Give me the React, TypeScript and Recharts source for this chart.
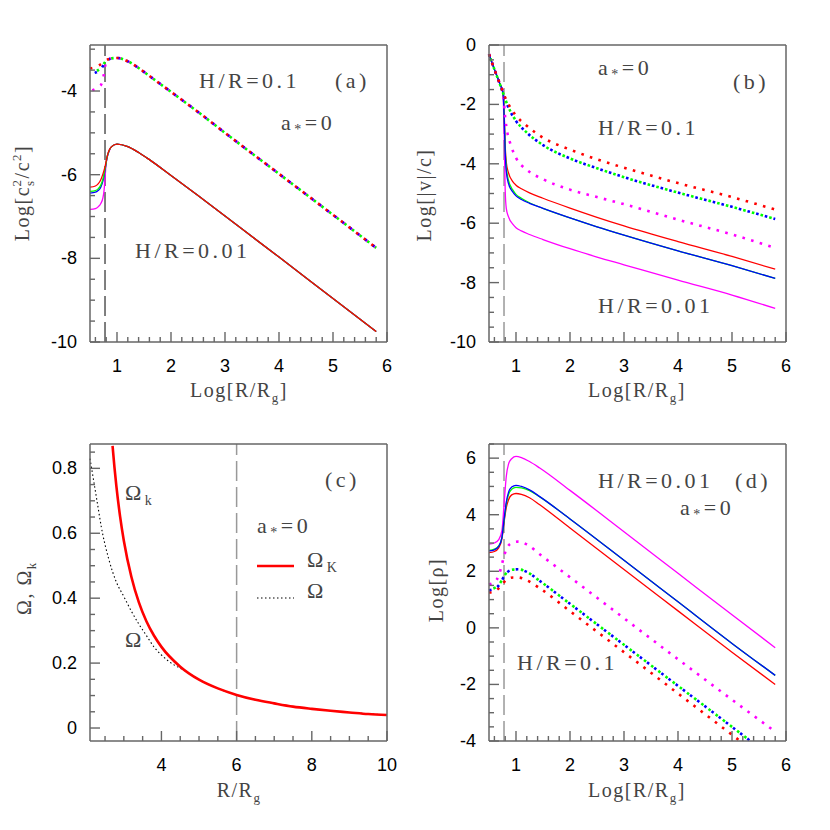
import React from 'react';
import { LineChart, Line, XAxis, YAxis, ReferenceLine } from 'recharts';

type Pt = [number, number];

const RED = '#ff0000';
const GREEN = '#00ff00';
const BLUE = '#0000ff';
const MAGENTA = '#ff00ff';
const FRAME = '#666';

// ---- panel (a): Log[cs^2/c^2] vs Log[R/Rg]
const aSolidTail: Pt[] = [
  [0.9, -5.33], [1.0, -5.27], [1.2, -5.33], [1.4, -5.47], [1.6, -5.64], [2, -6.02],
  [2.5, -6.5], [3, -6.99], [4, -7.97], [5, -8.96], [5.8, -9.75],
];
const aSolidRed: Pt[] = [[0.5, -6.3], [0.6, -6.27], [0.65, -6.22], [0.7, -6.12], [0.74, -5.98], [0.78, -5.8], [0.82, -5.55], [0.86, -5.4]];
const aSolidGreen: Pt[] = [[0.5, -6.4], [0.6, -6.38], [0.65, -6.34], [0.7, -6.25], [0.74, -6.1], [0.78, -5.85], [0.82, -5.56], [0.86, -5.41]];
const aSolidBlue: Pt[] = [[0.5, -6.44], [0.6, -6.42], [0.65, -6.38], [0.7, -6.3], [0.74, -6.15], [0.78, -5.88], [0.82, -5.57], [0.86, -5.41]];
const aSolidMagenta: Pt[] = [[0.5, -6.83], [0.6, -6.81], [0.65, -6.77], [0.7, -6.69], [0.74, -6.55], [0.76, -6.38], [0.78, -6.05], [0.8, -5.72], [0.82, -5.58], [0.86, -5.42]];

const aDotTail: Pt[] = [
  [0.9, -3.22], [1.0, -3.21], [1.2, -3.29], [1.4, -3.45], [1.6, -3.64], [2, -4.02],
  [2.5, -4.5], [3, -5.0], [4, -5.98], [5, -6.96], [5.8, -7.75],
];
const aDotRed: Pt[] = [[0.5, -3.46], [0.6, -3.43], [0.7, -3.36], [0.78, -3.28], [0.84, -3.24]];
const aDotGreen: Pt[] = [[0.5, -3.56], [0.6, -3.53], [0.7, -3.45], [0.78, -3.31], [0.84, -3.25]];
const aDotBlue: Pt[] = [[0.5, -3.59], [0.6, -3.56], [0.7, -3.48], [0.78, -3.32], [0.84, -3.25]];
const aDotMagenta: Pt[] = [[0.5, -4.0], [0.6, -3.95], [0.7, -3.86], [0.74, -3.72], [0.78, -3.4], [0.82, -3.27], [0.86, -3.23]];

// ---- panel (b): Log[|v|/c]
const bDotRed: Pt[] = [[0.5, -0.31], [0.6, -0.82], [0.7, -1.3], [0.78, -1.68], [0.82, -1.85], [0.9, -2.12], [1.0, -2.38], [1.2, -2.72], [1.5, -3.12], [2, -3.52], [2.5, -3.85], [3, -4.13], [4, -4.65], [5, -5.12], [5.8, -5.54]];
const bDotGreen: Pt[] = [[0.5, -0.31], [0.6, -0.82], [0.7, -1.31], [0.78, -1.72], [0.82, -1.92], [0.9, -2.25], [1.0, -2.55], [1.2, -2.95], [1.5, -3.37], [2, -3.82], [2.5, -4.15], [3, -4.45], [4, -4.97], [5, -5.45], [5.8, -5.86]];
const bDotBlue: Pt[] = [[0.5, -0.31], [0.6, -0.82], [0.7, -1.31], [0.78, -1.72], [0.82, -1.93], [0.9, -2.26], [1.0, -2.56], [1.2, -2.95], [1.5, -3.37], [2, -3.82], [2.5, -4.15], [3, -4.45], [4, -4.97], [5, -5.45], [5.8, -5.86]];
const bDotMagenta: Pt[] = [[0.5, -0.31], [0.6, -0.82], [0.7, -1.31], [0.76, -1.62], [0.8, -2.45], [0.84, -2.95], [0.9, -3.35], [1.0, -3.8], [1.2, -4.2], [1.5, -4.52], [2, -4.87], [2.5, -5.12], [3, -5.36], [4, -5.88], [5, -6.38], [5.8, -6.83]];
const bSolidRed: Pt[] = [[0.5, -0.31], [0.6, -0.82], [0.7, -1.3], [0.76, -1.62], [0.78, -2.2], [0.8, -3.4], [0.82, -3.95], [0.86, -4.3], [0.94, -4.6], [1.0, -4.72], [1.1, -4.84], [1.25, -4.98], [1.5, -5.16], [2, -5.49], [2.5, -5.8], [3, -6.09], [4, -6.62], [5, -7.12], [5.8, -7.55]];
const bSolidGreen: Pt[] = [[0.5, -0.31], [0.6, -0.82], [0.7, -1.3], [0.76, -1.62], [0.78, -2.3], [0.8, -3.5], [0.82, -4.12], [0.86, -4.55], [0.94, -4.88], [1.0, -5.03], [1.1, -5.16], [1.25, -5.31], [1.5, -5.5], [2, -5.82], [2.5, -6.12], [3, -6.4], [4, -6.93], [5, -7.43], [5.8, -7.86]];
const bSolidBlue: Pt[] = [[0.5, -0.31], [0.6, -0.82], [0.7, -1.3], [0.76, -1.62], [0.78, -2.4], [0.8, -3.6], [0.82, -4.25], [0.86, -4.66], [0.94, -4.95], [1.0, -5.08], [1.1, -5.2], [1.25, -5.33], [1.5, -5.5], [2, -5.82], [2.5, -6.12], [3, -6.4], [4, -6.93], [5, -7.43], [5.8, -7.86]];
const bSolidMagenta: Pt[] = [[0.5, -0.31], [0.6, -0.82], [0.7, -1.3], [0.76, -1.62], [0.78, -3.0], [0.8, -4.9], [0.82, -5.5], [0.86, -5.78], [0.94, -6.03], [1.0, -6.15], [1.1, -6.26], [1.25, -6.38], [1.5, -6.55], [2, -6.86], [2.5, -7.14], [3, -7.4], [4, -7.92], [5, -8.42], [5.8, -8.87]];

// ---- panel (c): Omega, Omega_K vs R/Rg
const cOmegaK: Pt[] = [[2.7, 0.869], [2.75, 0.804], [2.8, 0.747], [2.9, 0.652], [3.0, 0.577], [3.2, 0.466], [3.4, 0.387], [3.6, 0.329], [3.8, 0.285], [4.0, 0.25], [4.5, 0.189], [5, 0.149], [5.5, 0.122], [6, 0.102], [6.5, 0.087], [7, 0.076], [7.5, 0.066], [8, 0.059], [8.5, 0.053], [9, 0.048], [9.5, 0.043], [10, 0.04]];
const cOmega: Pt[] = [[2.1, 0.83], [2.2, 0.76], [2.3, 0.69], [2.4, 0.62], [2.6, 0.52], [2.8, 0.45], [3.0, 0.405], [3.2, 0.36], [3.4, 0.32], [3.6, 0.285], [3.8, 0.25], [4.0, 0.225], [4.2, 0.205], [4.4, 0.19], [4.6, 0.178], [5, 0.149], [6, 0.102], [7, 0.076], [8, 0.059], [9, 0.048], [10, 0.04]];

// ---- panel (d): Log[rho]
const dSolidMagenta: Pt[] = [[0.5, 2.96], [0.6, 3.0], [0.68, 3.12], [0.74, 3.45], [0.78, 4.4], [0.82, 5.35], [0.86, 5.78], [0.92, 5.98], [1.0, 6.06], [1.1, 6.02], [1.25, 5.88], [1.44, 5.65], [2, 4.86], [3, 3.4], [4, 1.93], [5, 0.46], [5.8, -0.7]];
const dSolidBlue: Pt[] = [[0.5, 2.72], [0.6, 2.76], [0.68, 2.88], [0.74, 3.2], [0.78, 3.85], [0.82, 4.45], [0.86, 4.78], [0.92, 4.98], [1.0, 5.04], [1.1, 5.0], [1.25, 4.88], [1.44, 4.64], [2, 3.85], [3, 2.39], [4, 0.92], [5, -0.55], [5.8, -1.68]];
const dSolidGreen: Pt[] = [[0.5, 2.74], [0.6, 2.78], [0.68, 2.9], [0.74, 3.2], [0.78, 3.8], [0.82, 4.38], [0.86, 4.7], [0.92, 4.9], [1.0, 4.97], [1.1, 4.95], [1.25, 4.85], [1.44, 4.63], [2, 3.85], [3, 2.39], [4, 0.92], [5, -0.55], [5.8, -1.68]];
const dSolidRed: Pt[] = [[0.5, 2.66], [0.6, 2.7], [0.68, 2.83], [0.74, 3.15], [0.78, 3.75], [0.82, 4.25], [0.86, 4.52], [0.92, 4.7], [1.0, 4.75], [1.1, 4.72], [1.25, 4.6], [1.44, 4.35], [2, 3.53], [3, 2.06], [4, 0.6], [5, -0.86], [5.8, -2.0]];
const dDotMagenta: Pt[] = [[0.5, 1.54], [0.6, 1.62], [0.68, 1.85], [0.74, 2.25], [0.78, 2.55], [0.84, 2.85], [0.92, 3.0], [1.04, 3.05], [1.2, 2.95], [1.44, 2.6], [2, 1.79], [3, 0.34], [4, -1.11], [5, -2.54], [5.8, -3.67]];
const dDotBlue: Pt[] = [[0.5, 1.33], [0.6, 1.38], [0.68, 1.5], [0.74, 1.68], [0.78, 1.83], [0.84, 1.97], [0.95, 2.06], [1.04, 2.07], [1.2, 1.98], [1.44, 1.66], [2, 0.85], [3, -0.6], [4, -2.05], [5, -3.5], [5.34, -4.0]];
const dDotGreen: Pt[] = [[0.5, 1.36], [0.6, 1.41], [0.68, 1.52], [0.74, 1.69], [0.78, 1.83], [0.84, 1.97], [0.95, 2.06], [1.04, 2.07], [1.2, 1.98], [1.44, 1.66], [2, 0.85], [3, -0.6], [4, -2.05], [5, -3.5], [5.34, -4.0]];
const dDotRed: Pt[] = [[0.5, 1.25], [0.6, 1.29], [0.68, 1.4], [0.74, 1.52], [0.78, 1.62], [0.85, 1.73], [0.95, 1.78], [1.04, 1.78], [1.2, 1.68], [1.44, 1.4], [2, 0.59], [3, -0.86], [4, -2.32], [5, -3.78], [5.15, -4.0]];

// axis ticks
const steps = (a: number, b: number, s: number) => {
  const out: number[] = [];
  const n = Math.round((b - a) / s);
  for (let i = 0; i <= n; i++) out.push(Math.round((a + i * s) * 1000) / 1000);
  return out;
};
const logRTicks = steps(0.6, 6, 0.2);
const logRMajor = [1, 2, 3, 4, 5, 6];
const aYTicks = steps(-10, -3, 0.5);
const aYMajor = [-10, -8, -6, -4];
const bYTicks = steps(-10, 0, 0.5);
const bYMajor = [-10, -8, -6, -4, -2, 0];
const cXTicks = steps(2.5, 10, 0.5);
const cXMajor = [4, 6, 8, 10];
const cYTicks = steps(0, 0.85, 0.05);
const cYMajor = [0, 0.2, 0.4, 0.6, 0.8];
const dYTicks = steps(-4, 6.5, 0.5);
const dYMajor = [-4, -2, 0, 2, 4, 6];

type Side = 'bottom' | 'top' | 'left' | 'right';

function makeTick(side: Side, majors: number[], labelled: boolean) {
  return (p: any) => {
    const x = Number(p.x);
    const y = Number(p.y);
    const v = Number(p.payload?.value);
    const major = majors.some(m => Math.abs(m - v) < 1e-6);
    const len = major ? 10 : 5;
    let d = '';
    if (side === 'bottom') d = `M${x},${y}L${x},${y - len}`;
    else if (side === 'top') d = `M${x},${y}L${x},${y + len}`;
    else if (side === 'left') d = `M${x},${y}L${x + len},${y}`;
    else d = `M${x},${y}L${x - len},${y}`;
    let label = null;
    if (labelled && major && side === 'bottom')
      label = (
        <text x={x} y={y + 30} textAnchor='middle' fill='#000' fontSize={18}
          fontFamily='"Liberation Sans", Arial, sans-serif'>{String(v)}</text>
      );
    if (labelled && major && side === 'left')
      label = (
        <text x={x - 13} y={y + 6} textAnchor='end' fill='#000' fontSize={18}
          fontFamily='"Liberation Sans", Arial, sans-serif'>{String(v)}</text>
      );
    return (
      <g>
        <path d={d} stroke={FRAME} strokeWidth={1.4} fill='none' />
        {label}
      </g>
    );
  };
}

interface Series {
  data: Pt[];
  color: string;
  dotted?: boolean;
  width?: number;
  dash?: string;
  offset?: number;
}

interface PanelProps {
  left: number;
  top: number;
  xDomain: [number, number];
  yDomain: [number, number];
  xTicks: number[];
  xMajor: number[];
  yTicks: number[];
  yMajor: number[];
  vline: number;
  vlineColor: string;
  series: Series[];
}

const PW = 297;
const PH = 297;

function Panel(props: PanelProps) {
  const { left, top, xDomain, yDomain, xTicks, xMajor, yTicks, yMajor } = props;
  const axisLine = { stroke: FRAME, strokeWidth: 1.5 };
  return (
    <div style={{ position: 'absolute', left: left - 60, top: top - 40 }}>
      <LineChart width={PW + 120} height={PH + 90} margin={{ top: 0, right: 0, bottom: 0, left: 0 }}>
        <XAxis xAxisId='b' orientation='bottom' type='number' dataKey='x' domain={xDomain}
          ticks={xTicks} interval={0} height={50} tickSize={0} tickMargin={0} tickLine={false}
          axisLine={axisLine} tick={makeTick('bottom', xMajor, true)} />
        <XAxis xAxisId='t' orientation='top' type='number' dataKey='x' domain={xDomain}
          ticks={xTicks} interval={0} height={40} tickSize={0} tickMargin={0} tickLine={false}
          axisLine={axisLine} tick={makeTick('top', xMajor, false)} />
        <YAxis yAxisId='l' orientation='left' type='number' domain={yDomain}
          ticks={yTicks} interval={0} width={60} tickSize={0} tickMargin={0} tickLine={false}
          axisLine={axisLine} tick={makeTick('left', yMajor, true)} />
        <YAxis yAxisId='r' orientation='right' type='number' domain={yDomain}
          ticks={yTicks} interval={0} width={60} tickSize={0} tickMargin={0} tickLine={false}
          axisLine={axisLine} tick={makeTick('right', yMajor, false)} />
        <ReferenceLine xAxisId='b' yAxisId='l' x={props.vline} stroke={props.vlineColor}
          strokeWidth={1.5} strokeDasharray='20 6' />
        {props.series.map((s, i) => (
          <Line key={i} xAxisId='b' yAxisId='l' type='monotone'
            data={s.data.map(([x, y]) => ({ x, y }))} dataKey='y'
            stroke={s.color} strokeWidth={s.width ?? (s.dotted ? 2.6 : 1.3)}
            strokeDasharray={s.dash ?? (s.dotted ? '2.6 6.4' : undefined)}
            strokeDashoffset={s.offset ?? 0}
            dot={false} activeDot={false} isAnimationActive={false} />
        ))}
      </LineChart>
    </div>
  );
}

const ann: React.CSSProperties = {
  fontFamily: '"Liberation Serif", "Times New Roman", serif',
  fontSize: 22,
  fill: '#444',
  letterSpacing: 3.5,
};
const title: React.CSSProperties = { ...ann, fontSize: 20, letterSpacing: 1.5 };

function AStar({ x, y }: { x: number; y: number }) {
  return (
    <text x={x} y={y} style={ann}>
      a<tspan fontSize={14} dy={4}>*</tspan><tspan dy={-4}>=0</tspan>
    </text>
  );
}

function LogRTitle({ x, y }: { x: number; y: number }) {
  return (
    <text x={x} y={y} textAnchor='middle' style={title}>
      Log[R/R<tspan fontSize={13} dy={5}>g</tspan><tspan dy={-5}>]</tspan>
    </text>
  );
}

function Overlay() {
  return (
    <svg width={830} height={830} style={{ position: 'absolute', left: 0, top: 0, pointerEvents: 'none' }}>
      {/* (a) */}
      <text x={199} y={88} style={ann}>H/R=0.1</text>
      <text x={335} y={88} style={ann}>(a)</text>
      <AStar x={281} y={130} />
      <text x={135} y={258} style={ann}>H/R=0.01</text>
      <LogRTitle x={239} y={397} />
      <text x={29} y={193} transform='rotate(-90 29 193)' textAnchor='middle' style={title}>
        Log[c<tspan fontSize={13} dy={5}>s</tspan><tspan fontSize={13} dx={-7} dy={-13}>2</tspan>
        <tspan dy={8}>/c</tspan><tspan fontSize={13} dy={-8}>2</tspan><tspan dy={8}>]</tspan>
      </text>

      {/* (b) */}
      <AStar x={598} y={75} />
      <text x={733} y={89} style={ann}>(b)</text>
      <text x={598} y={135} style={ann}>H/R=0.1</text>
      <text x={598} y={313} style={ann}>H/R=0.01</text>
      <LogRTitle x={637} y={397} />
      <text x={431} y={195} transform='rotate(-90 431 195)' textAnchor='middle' style={title}>
        Log[|v|/c]
      </text>

      {/* (c) */}
      <text x={325} y={487} style={ann}>(c)</text>
      <text x={125} y={500} style={ann}>Ω<tspan fontSize={14} dy={5}>k</tspan></text>
      <AStar x={257} y={533} />
      <line x1={257} y1={566} x2={294} y2={566} stroke={RED} strokeWidth={2.5} />
      <text x={307} y={567} style={ann}>Ω<tspan fontSize={14} dy={5}>K</tspan></text>
      <line x1={257} y1={598} x2={294} y2={598} stroke='#000' strokeWidth={1.1} strokeDasharray='1.5 2.5' />
      <text x={307} y={598} style={ann}>Ω</text>
      <text x={125} y={647} style={ann}>Ω</text>
      <text x={239} y={797} textAnchor='middle' style={title}>
        R/R<tspan fontSize={13} dy={5}>g</tspan>
      </text>
      <text x={31} y={588} transform='rotate(-90 31 588)' textAnchor='middle' style={title}>
        Ω, Ω<tspan fontSize={13} dy={5}>k</tspan>
      </text>

      {/* (d) */}
      <text x={598} y={488} style={ann}>H/R=0.01</text>
      <text x={735} y={488} style={ann}>(d)</text>
      <AStar x={680} y={515} />
      <text x={517} y={670} style={ann}>H/R=0.1</text>
      <LogRTitle x={637} y={797} />
      <text x={443} y={590} transform='rotate(-90 443 590)' textAnchor='middle' style={title}>
        Log[ρ]
      </text>
    </svg>
  );
}

export default function App() {
  return (
    <div style={{ position: 'absolute', left: 0, top: 0, width: 830, height: 830, background: '#fff' }}>
      <Panel left={90} top={45} xDomain={[0.5, 6]} yDomain={[-10, -2.9]}
        xTicks={logRTicks} xMajor={logRMajor} yTicks={aYTicks} yMajor={aYMajor}
        vline={0.778} vlineColor='#555'
        series={[
          { data: [...aSolidMagenta, ...aSolidTail], color: MAGENTA },
          { data: [...aSolidBlue, ...aSolidTail], color: BLUE },
          { data: [...aSolidGreen, ...aSolidTail], color: GREEN },
          { data: [...aSolidRed, ...aSolidTail], color: RED },
          { data: [...aDotMagenta, ...aDotTail], color: MAGENTA, dotted: true, dash: '2.4 7.2', offset: 7.2 },
          { data: [...aDotBlue, ...aDotTail], color: BLUE, dotted: true, dash: '2.4 7.2', offset: 4.8 },
          { data: [...aDotGreen, ...aDotTail], color: GREEN, dotted: true, dash: '2.4 7.2', offset: 2.4 },
          { data: [...aDotRed, ...aDotTail], color: RED, dotted: true, dash: '2.4 7.2', offset: 0 },
        ]} />
      <Panel left={489} top={45} xDomain={[0.5, 6]} yDomain={[-10, 0]}
        xTicks={logRTicks} xMajor={logRMajor} yTicks={bYTicks} yMajor={bYMajor}
        vline={0.778} vlineColor='#999'
        series={[
          { data: bSolidMagenta, color: MAGENTA },
          { data: bSolidRed, color: RED },
          { data: bSolidGreen, color: GREEN },
          { data: bSolidBlue, color: BLUE },
          { data: bDotMagenta, color: MAGENTA, dotted: true },
          { data: bDotGreen, color: GREEN, dotted: true, offset: 4.5 },
          { data: bDotBlue, color: BLUE, dotted: true, offset: 0 },
          { data: bDotRed, color: RED, dotted: true },
        ]} />
      <Panel left={90} top={444} xDomain={[2.1, 10]} yDomain={[-0.04, 0.875]}
        xTicks={cXTicks} xMajor={cXMajor} yTicks={cYTicks} yMajor={cYMajor}
        vline={6} vlineColor='#999'
        series={[
          { data: cOmega, color: '#000', width: 1.1, dash: '1.5 2.5' },
          { data: cOmegaK, color: RED, width: 2.6 },
        ]} />
      <Panel left={489} top={444} xDomain={[0.5, 6]} yDomain={[-4, 6.5]}
        xTicks={logRTicks} xMajor={logRMajor} yTicks={dYTicks} yMajor={dYMajor}
        vline={0.778} vlineColor='#999'
        series={[
          { data: dSolidMagenta, color: MAGENTA },
          { data: dSolidRed, color: RED },
          { data: dSolidGreen, color: GREEN },
          { data: dSolidBlue, color: BLUE },
          { data: dDotMagenta, color: MAGENTA, dotted: true },
          { data: dDotRed, color: RED, dotted: true },
          { data: dDotGreen, color: GREEN, dotted: true, offset: 4.5 },
          { data: dDotBlue, color: BLUE, dotted: true, offset: 0 },
        ]} />
      <Overlay />
    </div>
  );
}
